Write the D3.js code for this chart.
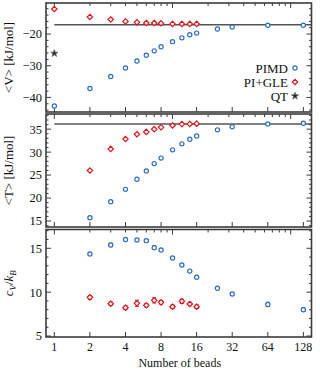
<!DOCTYPE html>
<html lang="en">
<head>
    <meta charset="UTF-8">
    <title>PIMD vs PI+GLE convergence with number of beads</title>
    <script src="https://d3js.org/d3.v7.min.js"></script>
    <style>
        body { margin: 0; background: #fff; }
        text { font-family: "Liberation Serif", "DejaVu Serif", serif; fill: #111; }
    </style>
</head>
<body>
    <svg width="320" height="370" id="beads"></svg>
    <script>
        // Number of beads for each method
        const beadsPIMD = [1, 2, 3, 4, 5, 6, 7, 8, 10, 12, 14, 16, 24, 32, 64, 128];
        const beadsGLE = [1, 2, 3, 4, 5, 6, 7, 8, 10, 12, 14, 16];

        // <V> [kJ/mol]
        const potPIMD = [-42.7, -37.2, -33.4, -30.7, -28.5, -26.7, -25.3, -24.0, -22.4, -21.2, -20.2, -19.7, -18.4, -17.8, -17.2, -17.2];
        const potGLE = [-12.1, -14.6, -15.4, -16.0, -16.3, -16.5, -16.5, -16.6, -16.8, -16.8, -16.8, -16.8];
        const potQT = -26.1;
        const potRef = -17.05;

        // <T> [kJ/mol]  (N = 1 is off the scale)
        const kinPIMD = [null, 15.7, 19.2, 21.9, 24.1, 25.9, 27.5, 28.7, 30.5, 31.8, 32.8, 33.5, 34.85, 35.5, 36.15, 36.3];
        const kinGLE = [null, 26.0, 30.7, 32.85, 33.9, 34.4, 35.0, 35.4, 35.8, 36.1, 36.15, 36.2];
        const kinRef = 36.1;

        // c_V / k_B with error bars
        const cvPIMD = [null, 14.35, 15.38, 16.0, 15.95, 15.87, 15.07, 14.8, 13.9, 13.1, 12.4, 11.7, 10.44, 9.79, 8.6, 8.0];
        const cvPIMDerr = [0, 0.1, 0.2, 0.15, 0.15, 0.15, 0.2, 0.15, 0.1, 0.1, 0.1, 0.1, 0.1, 0.1, 0.25, 0.2];
        const cvGLE = [null, 9.41, 8.68, 8.23, 8.73, 8.5, 9.07, 8.84, 8.34, 8.96, 8.65, 8.34];
        const cvGLEerr = [0, 0.2, 0.2, 0.2, 0.35, 0.2, 0.3, 0.2, 0.2, 0.25, 0.2, 0.2];

        // tick values
        const xTicks = [1, 2, 4, 8, 16, 32, 64, 128];
        const xTopTicks = [1, 2, 3, 4, 5, 6, 7, 8, 9, 10, 20, 30, 40, 50, 60, 70, 80, 90, 100];
        const potTicks = [-40, -30, -20];
        const kinTicks = [15, 20, 25, 30, 35];
        const cvTicks = [5, 10, 15];

        const blue = "#2f6fbf";
        const red = "#e3141b";
        const frame = "#3c3c3c";

        const svg = d3.select("#beads");
        const left = 46, right = 311.5;

        const x = d3.scaleLog().base(2)
            .domain([0.85, 150])
            .range([left, right]);

        const panels = [
            { top: 3, bottom: 112, domain: [-44.6, -10.2], ticks: potTicks, minor: 2,
              title: "<V> [kJ/mol]", pimd: potPIMD, gle: potGLE, ref: potRef },
            { top: 114, bottom: 227, domain: [13.7, 38.3], ticks: kinTicks, minor: 1,
              title: "<T> [kJ/mol]", pimd: kinPIMD, gle: kinGLE, ref: kinRef },
            { top: 229.5, bottom: 337, domain: [4.89, 17.14], ticks: cvTicks, minor: 1,
              title: null, pimd: cvPIMD, gle: cvGLE, pimdErr: cvPIMDerr, gleErr: cvGLEerr }
        ];

        const diamond = (cx, cy, r) =>
            `M${cx},${cy - r}L${cx + r},${cy}L${cx},${cy + r}L${cx - r},${cy}Z`;

        const star = d3.symbol(d3.symbolStar, 16);

        panels.forEach((p, pi) => {
            const y = d3.scaleLinear().domain(p.domain).range([p.bottom, p.top]);
            const g = svg.append("g");

            // reference line
            if (p.ref != null) {
                g.append("line")
                    .attr("x1", x(1)).attr("x2", right)
                    .attr("y1", y(p.ref)).attr("y2", y(p.ref))
                    .attr("stroke", "#555").attr("stroke-width", 1.5);
            }

            // frame
            g.append("rect")
                .attr("x", left).attr("y", p.top)
                .attr("width", right - left).attr("height", p.bottom - p.top)
                .attr("fill", "none").attr("stroke", frame).attr("stroke-width", 1.6);

            // bottom ticks: powers of two, inward
            xTicks.forEach(t => {
                g.append("line")
                    .attr("x1", x(t)).attr("x2", x(t))
                    .attr("y1", p.bottom).attr("y2", p.bottom - 5)
                    .attr("stroke", frame).attr("stroke-width", 1);
            });
            // top ticks: decade style
            xTopTicks.forEach(t => {
                const major = (t === 1 || t === 10 || t === 100);
                g.append("line")
                    .attr("x1", x(t)).attr("x2", x(t))
                    .attr("y1", p.top).attr("y2", p.top + (major ? 5 : 3))
                    .attr("stroke", frame).attr("stroke-width", 1);
            });

            // y ticks both sides, major + minor
            const lo = Math.ceil(p.domain[0] / p.minor) * p.minor;
            d3.range(lo, p.domain[1], p.minor).forEach(v => {
                const major = p.ticks.includes(Math.round(v * 100) / 100);
                const len = major ? 5 : 2.5;
                g.append("line")
                    .attr("x1", left).attr("x2", left + len)
                    .attr("y1", y(v)).attr("y2", y(v))
                    .attr("stroke", frame).attr("stroke-width", 1);
                g.append("line")
                    .attr("x1", right).attr("x2", right - len)
                    .attr("y1", y(v)).attr("y2", y(v))
                    .attr("stroke", frame).attr("stroke-width", 1);
            });

            // y tick labels
            g.selectAll("text.ytick")
                .data(p.ticks)
                .enter().append("text")
                .attr("class", "ytick")
                .attr("x", left - 4)
                .attr("y", d => y(d))
                .attr("dy", "0.35em")
                .attr("text-anchor", "end")
                .attr("font-size", "12.5px")
                .text(d => d < 0 ? "\u2212" + Math.abs(d) : d);

            // y title
            const cy = (p.top + p.bottom) / 2;
            if (p.title) {
                g.append("text")
                    .attr("transform", `translate(13,${cy}) rotate(-90)`)
                    .attr("text-anchor", "middle")
                    .attr("font-size", "13px")
                    .text(p.title);
            } else {
                const t = g.append("text")
                    .attr("transform", `translate(13,${cy}) rotate(-90)`)
                    .attr("text-anchor", "middle")
                    .attr("font-size", "13px");
                t.append("tspan").attr("font-style", "italic").text("c");
                t.append("tspan").attr("font-style", "italic").attr("font-size", "9px").attr("dy", 3).text("V");
                t.append("tspan").attr("dy", -3).text("/");
                t.append("tspan").attr("font-style", "italic").text("k");
                t.append("tspan").attr("font-style", "italic").attr("font-size", "9px").attr("dy", 3).text("B");
            }

            // error bars
            const errBars = (vals, errs, beads, color) => {
                if (!errs) return;
                vals.forEach((v, i) => {
                    if (v == null) return;
                    const px = x(beads[i]);
                    const y1 = y(v - errs[i]), y2 = y(v + errs[i]);
                    g.append("line").attr("x1", px).attr("x2", px).attr("y1", y1).attr("y2", y2)
                        .attr("stroke", color).attr("stroke-width", 1);
                    [y1, y2].forEach(yy => g.append("line")
                        .attr("x1", px - 2).attr("x2", px + 2).attr("y1", yy).attr("y2", yy)
                        .attr("stroke", color).attr("stroke-width", 1));
                });
            };
            errBars(p.pimd, p.pimdErr, beadsPIMD, blue);
            errBars(p.gle, p.gleErr, beadsGLE, red);

            // PIMD circles
            g.selectAll("circle.pimd")
                .data(p.pimd.map((v, i) => ({ n: beadsPIMD[i], v })).filter(d => d.v != null))
                .enter().append("circle")
                .attr("class", "pimd")
                .attr("cx", d => x(d.n)).attr("cy", d => y(d.v))
                .attr("r", 2.1)
                .attr("fill", "white").attr("stroke", blue).attr("stroke-width", 1.2);

            // PI+GLE diamonds
            g.selectAll("path.gle")
                .data(p.gle.map((v, i) => ({ n: beadsGLE[i], v })).filter(d => d.v != null))
                .enter().append("path")
                .attr("class", "gle")
                .attr("d", d => diamond(x(d.n), y(d.v), 2.7))
                .attr("fill", "white").attr("stroke", red).attr("stroke-width", 1.2);

            if (pi === 0) {
                // QT reference value
                g.append("path")
                    .attr("transform", `translate(${x(1)},${y(potQT)})`)
                    .attr("d", star())
                    .attr("fill", "#222").attr("stroke", "#666").attr("stroke-width", 0.8);

                // legend
                const legend = [
                    { label: "PIMD", kind: "circle" },
                    { label: "PI+GLE", kind: "diamond" },
                    { label: "QT", kind: "star" }
                ];
                legend.forEach((d, i) => {
                    const ly = 68 + i * 14;
                    g.append("text")
                        .attr("x", 288).attr("y", ly).attr("dy", "0.35em")
                        .attr("text-anchor", "end").attr("font-size", "13px")
                        .text(d.label);
                    if (d.kind === "circle") {
                        g.append("circle").attr("cx", 295).attr("cy", ly).attr("r", 2.1)
                            .attr("fill", "white").attr("stroke", blue).attr("stroke-width", 1.2);
                    } else if (d.kind === "diamond") {
                        g.append("path").attr("d", diamond(295, ly, 2.7))
                            .attr("fill", "white").attr("stroke", red).attr("stroke-width", 1.2);
                    } else {
                        g.append("path").attr("transform", `translate(295,${ly})`)
                            .attr("d", star())
                            .attr("fill", "#222").attr("stroke", "#666").attr("stroke-width", 0.8);
                    }
                });
            }

            // x labels only on the last panel
            if (pi === panels.length - 1) {
                g.selectAll("text.xtick")
                    .data(xTicks)
                    .enter().append("text")
                    .attr("class", "xtick")
                    .attr("x", d => x(d))
                    .attr("y", p.bottom + 10)
                    .attr("dy", "0.35em")
                    .attr("text-anchor", "middle")
                    .attr("font-size", "12px")
                    .text(d => d);

                g.append("text")
                    .attr("x", (left + right) / 2 + 1)
                    .attr("y", 367)
                    .attr("text-anchor", "middle")
                    .attr("font-size", "12px")
                    .text("Number of beads");
            }
        });
    </script>
</body>
</html>
